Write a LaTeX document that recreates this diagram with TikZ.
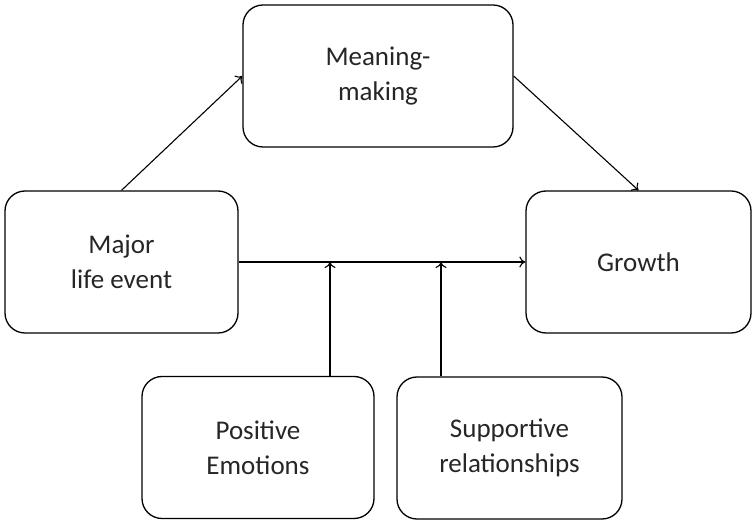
\documentclass[tikz,border=0pt]{standalone}
\usepackage{fontspec}
\setmainfont{Carlito}
\usetikzlibrary{arrows.meta,calc}

\tikzset{
  box/.style={draw, line width=1.3pt, rounded corners=20pt, align=center,
    inner sep=0pt, minimum height=142pt, text=black!85,
    font=\fontsize{27}{35}\selectfont},
  link/.style={line width=1.1pt, -{To[length=6pt,width=11pt]}}
}

\begin{document}
\begin{tikzpicture}[x=1pt,y=-1pt]
\useasboundingbox (0,0) rectangle (756,526);

\node[box,minimum width=270pt] (meaning) at (378,76) {Meaning-\\making};
\node[box,minimum width=233pt] (major) at (121.5,262) {Major\\life event};
\node[box,minimum width=225pt] (growth) at (638.5,262) {Growth};
\node[box,minimum width=232pt] (posemo) at (258,447.5) {Positive\\Emotions};
\node[box,minimum width=225pt] (support) at (509.5,448) {Supportive\\relationships};

\coordinate (posfoot) at ([xshift=72pt]posemo.north);
\coordinate (supfoot) at ([xshift=-68.5pt]support.north);

\draw[link] (major.north) -- (meaning.west);
\draw[link] (meaning.east) -- (growth.north);
\draw[link] (major.east) -- (growth.west);
\draw[link] (posfoot) -- (posfoot |- major.east);
\draw[link] (supfoot) -- (supfoot |- major.east);

\end{tikzpicture}
\end{document}
